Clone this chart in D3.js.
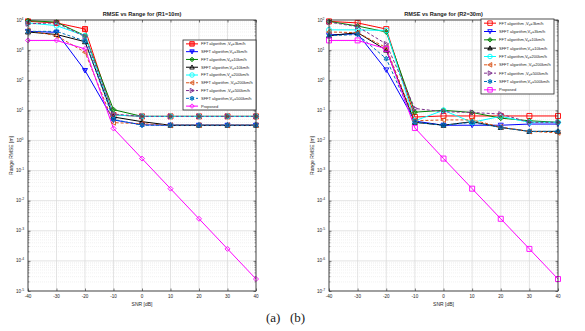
<!DOCTYPE html>
<html>
<head>
<meta charset="utf-8">
<script src="https://cdn.jsdelivr.net/npm/d3@7"></script>
<style>
  body { margin: 0; background: #fff; }
  svg { display: block; font-family: "Liberation Sans", Arial, sans-serif; }
</style>
</head>
<body>
<div id="chart"></div>
<script>
// SNR axis values
const snr = [-40, -30, -20, -10, 0, 10, 20, 30, 40];

const seriesNames = [
    "FFT algorithm ,V|s|=3km/h",
    "SFFT algorithm,V|s|=3km/h",
    "FFT algorithm,V|s|=10km/h",
    "SFFT algorithm,V|s|=10km/h",
    "FFT algorithm,V|s|=200km/h",
    "SFFT algorithm ,V|s|=200km/h",
    "FFT algorithm ,V|s|=500km/h",
    "SFFT algorithm,V|s|=500km/h",
    "Proposed"
];

// (a) R1 = 10m
const r1Fft3 = [9000, 8000, 5000, 7, 6.3, 6.3, 6.3, 6.3, 6.3];
const r1Sfft3 = [4200, 3900, 210, 4.8, 3.3, 3.2, 3.2, 3.2, 3.2];
const r1Fft10 = [9500, 8500, 3000, 10.5, 6.3, 6.3, 6.3, 6.3, 6.3];
const r1Sfft10 = [4000, 3300, 1900, 6, 4.2, 3.2, 3.2, 3.2, 3.2];
const r1Fft200 = [8000, 6500, 3000, 7, 6.3, 6.3, 6.3, 6.3, 6.3];
const r1Sfft200 = [4500, 3000, 850, 3.9, 3.6, 3.2, 3.2, 3.2, 3.2];
const r1Fft500 = [7500, 8000, 2800, 7.5, 6.3, 6.3, 6.3, 6.3, 6.3];
const r1Sfft500 = [4200, 4200, 2000, 5, 3.2, 3.2, 3.2, 3.2, 3.2];
const r1Proposed = [2100, 2100, 1100, 2.5, 0.25, 0.025, 0.0025, 0.00025, 0.000025];

// (b) R2 = 30m
const r2Fft3 = [90, 80, 50, 0.06, 0.065, 0.065, 0.065, 0.065, 0.065];
const r2Sfft3 = [32, 35, 2.2, 0.044, 0.032, 0.032, 0.032, 0.035, 0.035];
const r2Fft10 = [90, 63, 40, 0.087, 0.1, 0.085, 0.055, 0.045, 0.04];
const r2Sfft10 = [30, 38, 10, 0.04, 0.032, 0.042, 0.027, 0.02, 0.02];
const r2Fft200 = [47, 47, 45, 0.045, 0.1, 0.04, 0.063, 0.04, 0.04];
const r2Sfft200 = [40, 38, 12, 0.045, 0.048, 0.048, 0.028, 0.02, 0.018];
const r2Fft500 = [85, 60, 16, 0.115, 0.09, 0.085, 0.075, 0.04, 0.04];
const r2Sfft500 = [30, 33, 5.2, 0.04, 0.032, 0.04, 0.027, 0.02, 0.02];
const r2Proposed = [21, 21, 11, 0.026, 0.0025, 0.00025, 0.000025, 0.0000025, 0.00000025];

const yTicksA = [1e-5, 1e-4, 1e-3, 1e-2, 1e-1, 1e0, 1e1, 1e2, 1e3, 1e4];
const yTicksB = [1e-7, 1e-6, 1e-5, 1e-4, 1e-3, 1e-2, 1e-1, 1e0, 1e1, 1e2];

const colors = ["#ff0000", "#0000ff", "#008000", "#000000", "#00ffff", "#d95319", "#7e2f8e", "#0072bd", "#ff00ff"];
const dashes = [null, null, null, null, null, "3,2", "3,2", "3,2", null];

const width = 585, height = 331;
const svg = d3.select("#chart").append("svg")
    .attr("width", width)
    .attr("height", height);

// marker shapes drawn centred at 0,0
function markerPath(type, s) {
    const h = s / 2;
    switch (type) {
        case "square": return `M${-h},${-h}H${h}V${h}H${-h}Z`;
        case "down": return `M${-h},${-h * 0.8}L${h},${-h * 0.8}L0,${h}Z`;
        case "up": return `M${-h},${h * 0.8}L${h},${h * 0.8}L0,${-h}Z`;
        case "left": return `M${h * 0.8},${-h}L${h * 0.8},${h}L${-h},0Z`;
        case "right": return `M${-h * 0.8},${-h}L${-h * 0.8},${h}L${h},0Z`;
        case "diamond": return `M0,${-h}L${h},0L0,${h}L${-h},0Z`;
        case "circle": return d3.symbol().type(d3.symbolCircle).size(Math.PI * h * h)();
        case "hex": {
            let p = "";
            for (let i = 0; i < 12; i++) {
                const r = i % 2 ? h * 0.55 : h;
                const a = Math.PI / 2 + i * Math.PI / 6;
                p += (i ? "L" : "M") + (r * Math.cos(a)).toFixed(2) + "," + (-r * Math.sin(a)).toFixed(2);
            }
            return p + "Z";
        }
    }
}

function drawLabel(sel, label) {
    const parts = label.split("|");
    sel.append("tspan").text(parts[0]);
    if (parts.length > 1) {
        sel.append("tspan").attr("dy", 1.2).attr("font-size", 3.2).text(parts[1]);
        sel.append("tspan").attr("dy", -1.2).text(parts[2]);
    }
}

function drawChart(cfg) {
    const g = svg.append("g");
    const x = d3.scaleLinear().domain([-40, 40]).range([cfg.left, cfg.right]);
    const y = d3.scaleLog().domain(cfg.yDomain).range([cfg.bottom, cfg.top]);

    // minor grid
    const lo = Math.log10(cfg.yDomain[0]), hi = Math.log10(cfg.yDomain[1]);
    const minor = [];
    for (let e = lo; e < hi; e++) {
        for (let k = 2; k <= 9; k++) minor.push(k * Math.pow(10, e));
    }
    g.selectAll(".minorgrid").data(minor).join("line")
        .attr("x1", cfg.left).attr("x2", cfg.right)
        .attr("y1", d => y(d)).attr("y2", d => y(d))
        .attr("stroke", "#e4e4e4").attr("stroke-width", 0.5)
        .attr("stroke-dasharray", "1,1");

    // major grid
    g.selectAll(".ygrid").data(cfg.yTicks).join("line")
        .attr("x1", cfg.left).attr("x2", cfg.right)
        .attr("y1", d => y(d)).attr("y2", d => y(d))
        .attr("stroke", "#d9d9d9").attr("stroke-width", 0.7);
    g.selectAll(".xgrid").data(snr).join("line")
        .attr("x1", d => x(d)).attr("x2", d => x(d))
        .attr("y1", cfg.top).attr("y2", cfg.bottom)
        .attr("stroke", "#d9d9d9").attr("stroke-width", 0.7);

    // series
    const line = d3.line().x((d, i) => x(snr[i])).y(d => y(d));
    cfg.series.forEach((vals, i) => {
        g.append("path").datum(vals)
            .attr("d", line)
            .attr("fill", "none")
            .attr("stroke", colors[i])
            .attr("stroke-width", 1)
            .attr("stroke-dasharray", dashes[i]);
    });
    cfg.series.forEach((vals, i) => {
        g.selectAll(null).data(vals).join("path")
            .attr("transform", (d, j) => `translate(${x(snr[j])},${y(d)})`)
            .attr("d", markerPath(cfg.markers[i], 5))
            .attr("fill", cfg.filled[i] ? colors[i] : "none")
            .attr("fill-opacity", cfg.filled[i] ? 0.5 : 0)
            .attr("stroke", colors[i])
            .attr("stroke-width", 0.9);
    });

    // axes box and ticks
    g.append("rect")
        .attr("x", cfg.left).attr("y", cfg.top)
        .attr("width", cfg.right - cfg.left).attr("height", cfg.bottom - cfg.top)
        .attr("fill", "none").attr("stroke", "#262626").attr("stroke-width", 0.8);

    const yAxisL = d3.axisLeft(y).tickValues(cfg.yTicks).tickSizeInner(-2.5).tickSizeOuter(0).tickFormat("");
    const yAxisR = d3.axisRight(y).tickValues(cfg.yTicks).tickSizeInner(-2.5).tickSizeOuter(0).tickFormat("");
    const xAxisB = d3.axisBottom(x).tickValues(snr).tickSizeInner(-2.5).tickSizeOuter(0).tickFormat("");
    const xAxisT = d3.axisTop(x).tickValues(snr).tickSizeInner(-2.5).tickSizeOuter(0).tickFormat("");
    [[yAxisL, `translate(${cfg.left},0)`], [yAxisR, `translate(${cfg.right},0)`],
     [xAxisB, `translate(0,${cfg.bottom})`], [xAxisT, `translate(0,${cfg.top})`]].forEach(a => {
        const ax = g.append("g").attr("transform", a[1]).call(a[0]);
        ax.select(".domain").remove();
        ax.selectAll("line").attr("stroke", "#262626").attr("stroke-width", 0.6);
    });
    // minor y ticks
    [[cfg.left, 1.5], [cfg.right, -1.5]].forEach(s => {
        g.selectAll(null).data(minor).join("line")
            .attr("x1", s[0]).attr("x2", s[0] + s[1])
            .attr("y1", d => y(d)).attr("y2", d => y(d))
            .attr("stroke", "#262626").attr("stroke-width", 0.4);
    });

    // tick labels
    g.selectAll(".xlab").data(snr).join("text")
        .attr("x", d => x(d)).attr("y", cfg.bottom + 7)
        .attr("text-anchor", "middle")
        .attr("font-size", 4.6).attr("fill", "#262626")
        .text(d => d);
    const yl = g.selectAll(".ylab").data(cfg.yTicks).join("text")
        .attr("x", cfg.left - 8).attr("y", d => y(d) + 1.6)
        .attr("text-anchor", "middle")
        .attr("font-size", 4.6).attr("fill", "#262626");
    yl.append("tspan").text("10");
    yl.append("tspan").attr("dy", -2).attr("font-size", 3.4).text(d => Math.round(Math.log10(d)));

    // title and axis labels
    g.append("text")
        .attr("x", (cfg.left + cfg.right) / 2).attr("y", cfg.top - 4)
        .attr("text-anchor", "middle").attr("font-size", 5.6).attr("font-weight", "bold")
        .attr("fill", "#1a1a1a")
        .text(cfg.title);
    g.append("text")
        .attr("x", (cfg.left + cfg.right) / 2).attr("y", cfg.bottom + 15)
        .attr("text-anchor", "middle").attr("font-size", 5).attr("fill", "#262626")
        .text("SNR [dB]");
    g.append("text")
        .attr("transform", `translate(${cfg.left - 15},${(cfg.top + cfg.bottom) / 2}) rotate(-90)`)
        .attr("text-anchor", "middle").attr("font-size", 5).attr("fill", "#262626")
        .text("Range RMSE [m]");

    // legend
    const L = cfg.legend;
    const lg = g.append("g").attr("transform", `translate(${L.x},${L.y})`);
    lg.append("rect")
        .attr("width", L.w).attr("height", L.h)
        .attr("fill", "#fff").attr("stroke", "#262626").attr("stroke-width", 0.8);
    const rowH = L.h / seriesNames.length;
    seriesNames.forEach((name, i) => {
        const cy = rowH * (i + 0.5);
        lg.append("line")
            .attr("x1", 3).attr("x2", 15).attr("y1", cy).attr("y2", cy)
            .attr("stroke", colors[i]).attr("stroke-width", 1)
            .attr("stroke-dasharray", dashes[i]);
        lg.append("path")
            .attr("transform", `translate(9,${cy})`)
            .attr("d", markerPath(cfg.markers[i], 4.5))
            .attr("fill", cfg.filled[i] ? colors[i] : "none")
            .attr("fill-opacity", cfg.filled[i] ? 0.5 : 0)
            .attr("stroke", colors[i]).attr("stroke-width", 0.9);
        const t = lg.append("text")
            .attr("x", 18).attr("y", cy + 1.4)
            .attr("font-size", 4).attr("fill", "#262626");
        drawLabel(t, name);
    });
}

drawChart({
    left: 28, right: 256, top: 20, bottom: 291,
    yDomain: [1e-5, 1e4], yTicks: yTicksA,
    title: "RMSE vs Range  for (R1=10m)",
    series: [r1Fft3, r1Sfft3, r1Fft10, r1Sfft10, r1Fft200, r1Sfft200, r1Fft500, r1Sfft500, r1Proposed],
    markers: ["square", "down", "diamond", "up", "circle", "left", "right", "hex", "diamond"],
    filled: [true, true, true, false, false, false, false, true, false],
    legend: { x: 183, y: 40, w: 73, h: 70 }
});

drawChart({
    left: 329, right: 558, top: 20, bottom: 291,
    yDomain: [1e-7, 1e2], yTicks: yTicksB,
    title: "RMSE vs Range for (R2=30m)",
    series: [r2Fft3, r2Sfft3, r2Fft10, r2Sfft10, r2Fft200, r2Sfft200, r2Fft500, r2Sfft500, r2Proposed],
    markers: ["square", "down", "diamond", "up", "circle", "left", "right", "hex", "square"],
    filled: [false, false, true, true, false, false, false, true, false],
    legend: { x: 481, y: 19, w: 73, h: 75 }
});

// sub-figure captions
svg.append("text").attr("x", 266).attr("y", 322)
    .attr("font-family", "'Liberation Serif', 'Times New Roman', serif")
    .attr("font-size", 13).attr("fill", "#1a1a1a").text("(a)");
svg.append("text").attr("x", 290).attr("y", 322)
    .attr("font-family", "'Liberation Serif', 'Times New Roman', serif")
    .attr("font-size", 13).attr("fill", "#1a1a1a").text("(b)");
</script>
</body>
</html>
